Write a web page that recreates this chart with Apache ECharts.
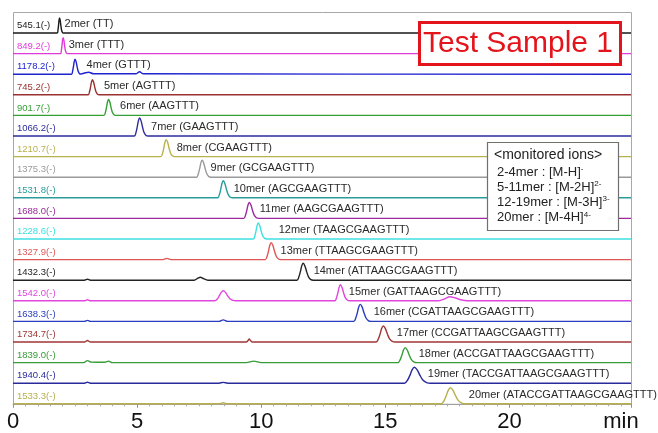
<!DOCTYPE html>
<html>
<head>
<meta charset="utf-8">
<script src="https://cdn.jsdelivr.net/npm/echarts@6/dist/echarts.min.js"></script>
<style>
  html, body { margin: 0; padding: 0; background: #ffffff; }
  #chart { width: 658px; height: 433px; }
</style>
</head>
<body>
<div id="chart"></div>
<script>
// Extracted-ion chromatograms of oligonucleotides 2mer..20mer (retention time in min)
const massLabels = ['545.1(-)', '849.2(-)', '1178.2(-)', '745.2(-)', '901.7(-)', '1066.2(-)', '1210.7(-)',
  '1375.3(-)', '1531.8(-)', '1688.0(-)', '1228.6(-)', '1327.9(-)', '1432.3(-)', '1542.0(-)', '1638.3(-)',
  '1734.7(-)', '1839.0(-)', '1940.4(-)', '1533.3(-)'];

const peakNames = ['2mer (TT)', '3mer (TTT)', '4mer (GTTT)', '5mer (AGTTT)', '6mer (AAGTTT)', '7mer (GAAGTTT)',
  '8mer (CGAAGTTT)', '9mer (GCGAAGTTT)', '10mer (AGCGAAGTTT)', '11mer (AAGCGAAGTTT)', '12mer (TAAGCGAAGTTT)',
  '13mer (TTAAGCGAAGTTT)', '14mer (ATTAAGCGAAGTTT)', '15mer (GATTAAGCGAAGTTT)', '16mer (CGATTAAGCGAAGTTT)',
  '17mer (CCGATTAAGCGAAGTTT)', '18mer (ACCGATTAAGCGAAGTTT)', '19mer (TACCGATTAAGCGAAGTTT)',
  '20mer (ATACCGATTAAGCGAAGTTT)'];

const traceColors = ['#1a1a1a', '#e03ad8', '#1f23d0', '#9a3030', '#34a034', '#2c2c9c', '#b8b24c',
  '#9a9a9a', '#2a9c9c', '#9c2a9c', '#3ee0e0', '#e05656', '#222222', '#e046de', '#2a3cc0',
  '#a03636', '#389c38', '#2a2a9c', '#b8b04e'];

// [time (min), relative intensity]
const trace2mer = [[0,0],[1.784,0],[1.812,3],[1.833,7.4],[1.854,12.6],[1.875,15],[1.902,12.6],[1.929,7.4],[1.956,3],[1.992,0.5],[2.028,0],[24.9,0]];
const trace3mer = [[0,0],[1.916,0],[1.948,3.2],[1.972,7.8],[1.996,13.4],[2.02,16],[2.05,13.4],[2.08,7.8],[2.11,3.2],[2.15,0.6],[2.19,0],[24.9,0]];
const trace4mer = [[0,0],[2.357,0],[2.401,3],[2.434,7.4],[2.467,12.6],[2.5,15],[2.542,12.6],[2.584,7.4],[2.626,3],[2.682,0.5],[2.738,0.2],[2.92,1.5],[3.05,2],[3.25,0.4],[4.95,0.4],[5.1,2.5],[5.25,0.4],[24.9,0]];
const trace5mer = [[0,0],[3.031,0],[3.083,3],[3.122,7.4],[3.161,12.6],[3.2,15],[3.248,12.6],[3.296,7.4],[3.344,3],[3.408,0.5],[3.472,0],[24.9,0]];
const trace6mer = [[0,0],[3.668,0],[3.724,3.2],[3.766,7.8],[3.808,13.4],[3.85,16],[3.901,13.4],[3.952,7.8],[4.003,3.2],[4.071,0.6],[4.139,0],[24.9,0]];
const trace7mer = [[0,0],[4.892,0],[4.956,3.6],[5.004,8.8],[5.052,15.1],[5.1,18],[5.16,15.1],[5.22,8.8],[5.28,3.6],[5.36,0.6],[5.44,0],[24.9,0]];
const trace8mer = [[0,0],[5.962,0],[6.026,3.4],[6.074,8.3],[6.122,14.3],[6.17,17],[6.23,14.3],[6.29,8.3],[6.35,3.4],[6.43,0.6],[6.51,0],[24.9,0]];
const trace9mer = [[0,0],[7.399,0],[7.467,3.4],[7.518,8.3],[7.569,14.3],[7.62,17],[7.683,14.3],[7.746,8.3],[7.809,3.4],[7.893,0.6],[7.977,0],[24.9,0]];
const trace10mer = [[0,0],[8.249,0],[8.317,3.4],[8.368,8.3],[8.419,14.3],[8.47,17],[8.536,14.3],[8.602,8.3],[8.668,3.4],[8.756,0.6],[8.844,0],[24.9,0]];
const trace11mer = [[0,0],[9.299,0],[9.367,3.2],[9.418,7.8],[9.469,13.4],[9.52,16],[9.586,13.4],[9.652,7.8],[9.718,3.2],[9.806,0.6],[9.894,0],[24.9,0]];
const trace12mer = [[0,0],[9.685,0],[9.745,3.2],[9.79,7.8],[9.835,13.4],[9.88,16],[9.94,13.4],[10.0,7.8],[10.06,3.2],[10.14,0.6],[10.22,0],[24.9,0]];
const trace13mer = [[0,0],[6.05,0],[6.2,1.2],[6.35,0],[10.166,0],[10.238,3.4],[10.292,8.3],[10.346,14.3],[10.4,17],[10.469,14.3],[10.538,8.3],[10.607,3.4],[10.699,0.6],[10.791,0],[24.9,0]];
const trace14mer = [[0,0],[2.88,0],[3.0,1],[3.12,0],[7.3,0],[7.45,2],[7.55,3],[7.68,1.5],[7.85,0],[11.443,0],[11.519,3.4],[11.576,8.3],[11.633,14.3],[11.69,17],[11.762,14.3],[11.834,8.3],[11.906,3.4],[12.002,0.6],[12.098,0],[24.9,0]];
const trace15mer = [[0,0],[2.88,0],[3.0,1],[3.12,0],[8.13,0],[8.24,2],[8.31,4.9],[8.39,8.4],[8.47,10],[8.56,8.4],[8.65,4.9],[8.74,2],[8.86,0.4],[8.98,0],[12.969,0],[13.037,3.2],[13.088,7.8],[13.139,13.4],[13.19,16],[13.256,13.4],[13.322,7.8],[13.388,3.2],[13.476,0.6],[13.564,0],[17.15,0],[17.4,2],[17.6,4],[17.8,3],[18.05,1],[18.3,0],[24.9,0]];
const trace16mer = [[0,0],[2.88,0],[3.0,1],[3.12,0],[8.3,0],[8.47,1.5],[8.65,0],[13.73,0],[13.81,3.4],[13.87,8.3],[13.93,14.3],[13.99,17],[14.068,14.3],[14.146,8.3],[14.224,3.4],[14.328,0.6],[14.432,0],[24.9,0]];
const trace17mer = [[0,0],[2.88,0],[3.0,1.5],[3.12,0],[9.4,0],[9.47,1.5],[9.52,3],[9.57,1.5],[9.65,0],[14.634,0],[14.722,3.2],[14.788,7.8],[14.854,13.4],[14.92,16],[15.004,13.4],[15.088,7.8],[15.172,3.2],[15.284,0.6],[15.396,0],[24.9,0]];
const trace18mer = [[0,0],[2.85,0],[3.0,2],[3.15,0.5],[3.7,0.3],[3.85,1.5],[4.0,0],[9.4,0],[9.7,1.5],[10.0,0],[15.514,0],[15.602,3],[15.668,7.4],[15.734,12.6],[15.8,15],[15.884,12.6],[15.968,7.4],[16.052,3],[16.164,0.5],[16.276,0],[24.9,0]];
const trace19mer = [[0,0],[2.88,0],[3.0,1],[3.12,0],[8.3,0],[8.47,0.8],[8.65,0],[15.78,0],[15.9,3.2],[15.99,7.8],[16.08,13.4],[16.17,16],[16.284,13.4],[16.398,7.8],[16.512,3.2],[16.664,0.6],[16.816,0],[24.9,0]];
const trace20mer = [[0,0],[8.3,0],[8.47,1],[8.65,0],[17.256,0],[17.368,3.2],[17.452,7.8],[17.536,13.4],[17.62,16],[17.728,13.4],[17.836,7.8],[17.944,3.2],[18.088,0.6],[18.232,0],[24.9,0]];

const traces = [trace2mer, trace3mer, trace4mer, trace5mer, trace6mer, trace7mer, trace8mer, trace9mer,
  trace10mer, trace11mer, trace12mer, trace13mer, trace14mer, trace15mer, trace16mer, trace17mer,
  trace18mer, trace19mer, trace20mer];

const timeTicks = [0, 5, 10, 15, 20];
const timeMax = 24.9;

const ionLines = [
  '2-4mer : [M-H]{s|-}',
  '5-11mer : [M-2H]{s|2-}',
  '12-19mer : [M-3H]{s|3-}',
  '20mer : [M-4H]{s|4-}'
];

// ---- layout ----
const FONT = '"Liberation Sans", Arial, sans-serif';
const PLOT_LEFT = 13, PLOT_RIGHT = 631, PLOT_TOP = 12;
const FIRST_BASE = 33, STEP = 20.6;
const nameGap = [4.5, 5, 11, 11, 11, 11, 10, 8, 10, 10, 20, 9, 10, 8, 13, 13, 13, 13, 18];

const grids = [], xAxes = [], yAxes = [], series = [], graphics = [];
const last = traces.length - 1;

traces.forEach((tr, i) => {
  const base = FIRST_BASE + i * STEP;
  grids.push({ left: PLOT_LEFT, width: PLOT_RIGHT - PLOT_LEFT, top: base - STEP, height: STEP });
  const isLast = i === last;
  xAxes.push({
    gridIndex: i, type: 'value', min: 0, max: timeMax, interval: 5,
    show: isLast,
    axisLine: { show: isLast, lineStyle: { color: '#a0a0a0', width: 1 } },
    axisTick: { show: isLast, length: 4, lineStyle: { color: '#909090' } },
    minorTick: { show: isLast, splitNumber: 10, length: 2.5, lineStyle: { color: '#a8a8a8' } },
    splitLine: { show: false },
    axisLabel: {
      show: isLast, fontSize: 22, color: '#111', fontFamily: FONT, margin: 7,
      showMaxLabel: false,
      formatter: v => (timeTicks.indexOf(v) >= 0 ? String(v) : '')
    },
    name: isLast ? 'min' : '',
    nameLocation: 'end', nameGap: -10,
    nameTextStyle: { fontSize: 22, color: '#111', fontFamily: FONT, align: 'center', verticalAlign: 'top', padding: [7, 0, 0, 0] }
  });
  yAxes.push({ gridIndex: i, type: 'value', min: 0, max: STEP, show: false });

  const peak = Math.max(...tr.map(p => p[1]));
  series.push({
    type: 'line', xAxisIndex: i, yAxisIndex: i, data: tr,
    showSymbol: false, smooth: 0.3, clip: false, animation: false,
    lineStyle: { color: traceColors[i], width: 1.4 },
    itemStyle: { color: traceColors[i] },
    markPoint: {
      symbol: 'circle', symbolSize: 1, animation: false,
      itemStyle: { color: 'rgba(0,0,0,0)' },
      data: [{ type: 'max', valueDim: 'y' }],
      label: {
        show: true, position: 'right', distance: 0,
        offset: [nameGap[i], peak - 9],
        formatter: peakNames[i], color: '#2a2a2a', fontSize: 11, fontFamily: FONT
      }
    }
  });

  graphics.push({
    type: 'text', x: PLOT_LEFT + 4, y: base - 7.5, z: 50,
    style: { text: massLabels[i], fill: traceColors[i], font: '9.5px ' + FONT, verticalAlign: 'middle', align: 'left' }
  });
});

// plot frame
graphics.unshift({
  type: 'rect', z: 0,
  shape: { x: PLOT_LEFT + 0.5, y: PLOT_TOP + 0.5, width: PLOT_RIGHT - PLOT_LEFT, height: FIRST_BASE + last * STEP - PLOT_TOP },
  style: { fill: 'none', stroke: '#a8a8a8', lineWidth: 1 }
});

// sample title box
graphics.push({
  type: 'rect', z: 100,
  shape: { x: 419.5, y: 22.5, width: 201, height: 42 },
  style: { fill: '#ffffff', stroke: '#e3141c', lineWidth: 3 }
});
graphics.push({
  type: 'text', z: 101, x: 518, y: 44,
  style: { text: 'Test Sample 1', fill: '#e3141c', font: '30px ' + FONT, align: 'center', verticalAlign: 'middle' }
});

// monitored ions box
graphics.push({
  type: 'rect', z: 100,
  shape: { x: 487.5, y: 142.5, width: 131, height: 88 },
  style: { fill: '#ffffff', stroke: '#707070', lineWidth: 1.2 }
});
graphics.push({
  type: 'text', z: 101, x: 494, y: 155,
  style: { text: '<monitored ions>', fill: '#222', font: '14px ' + FONT, align: 'left', verticalAlign: 'middle' }
});
ionLines.forEach((t, k) => {
  graphics.push({
    type: 'text', z: 101, x: 497, y: 172 + k * 15.3,
    style: {
      text: t, fill: '#222', font: '13px ' + FONT, align: 'left', verticalAlign: 'middle',
      lineHeight: 15,
      rich: { s: { fontSize: 8, fontFamily: FONT, fill: '#222', verticalAlign: 'top', lineHeight: 15 } }
    }
  });
});

const chart = echarts.init(document.getElementById('chart'), null, { renderer: 'canvas' });
chart.setOption({
  animation: false,
  backgroundColor: '#ffffff',
  grid: grids, xAxis: xAxes, yAxis: yAxes, series: series,
  graphic: { elements: graphics }
});
</script>
</body>
</html>
